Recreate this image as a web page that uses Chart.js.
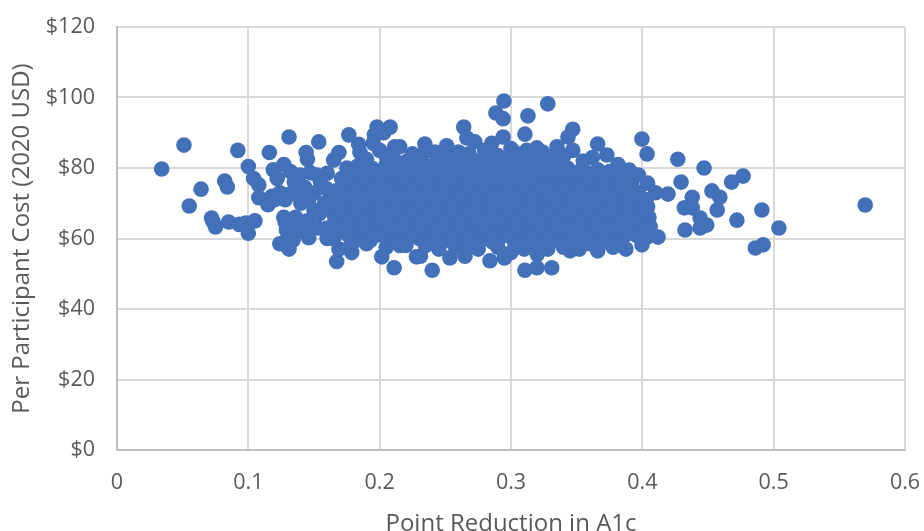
<!DOCTYPE html>
<html>
<head>
<meta charset="utf-8">
<style>
  html, body { margin: 0; padding: 0; background: #fff; overflow: hidden; }
</style>
<script src="https://cdn.jsdelivr.net/npm/chart.js@4/dist/chart.umd.min.js"></script>
</head>
<body>
<canvas id="chart" width="924" height="531"></canvas>
<script>
const xTickLabels = ['0', '0.1', '0.2', '0.3', '0.4', '0.5', '0.6'];
const yTickLabels = ['$0', '$20', '$40', '$60', '$80', '$100', '$120'];
const xTitle = 'Point Reduction in A1c';
const yTitle = 'Per Participant Cost (2020 USD)';

// [reduction, cost]
const leftTail = [
  [.034,79.7],[.051,86.5],[.055,69.2],[.064,74],[.072,65.8],[.075,63.3],[.073,64.8],[.082,76.3],
  [.084,74.6],[.085,64.7],[.092,85],[.093,64],[.1,80.4],[.1,61.5],[.105,65],[.098,64.4],[.104,77],
  [.108,75.2],[.116,84.4],[.131,88.8],[.127,81],[.119,79.5],[.108,71.6],[.115,69.6],[.124,73],
  [.12,71],[.13,72.5],[.128,64.7],[.129,62.4],[.124,58.5],[.131,57],[.146,60.2],[.134,59.5],
  [.14,62],[.136,66],[.145,65],[.15,68],[.14,70],[.15,73],[.135,76],[.139,78],[.147,78.7],[.155,76],
  [.16,74],[.158,70],[.153,63],[.16,60],[.13,60],[.127,66],[.122,77],[.132,79],[.144,84.4],[.145,82.5],
  [.118,72],[.128,71],[.137,72.5],[.146,71],[.143,74.5],[.152,78],[.16,78.5],[.154,67],[.148,63],[.135,63.5]
];
const upperEdge = [
  [.198,91.6],[.208,91.6],[.196,89.4],[.203,90],[.1765,89.4],[.1536,87.4],[.169,84.4],[.184,86.7],
  [.185,84.4],[.2115,86],[.165,82.3],[.2153,86],[.2344,86.8],[.251,86.3],[.225,84],[.242,84.5],
  [.2946,99],[.328,98.2],[.2885,95.6],[.294,94],[.3129,94.8],[.3106,89.6],[.264,91.6],[.2664,88.5],
  [.2725,87.4],[.294,88.8],[.2854,87],[.347,91],[.3434,88.8],[.335,86],[.347,85],[.312,85],[.3197,85.7],
  [.324,84.5],[.366,86.8],[.373,83.7],[.3815,81],[.362,83],[.39,79.4],[.397,78],[.3,85.5],[.28,85],
  [.26,84.5],[.355,82],[.34,83.5],[.19,82.5],[.2,85],[.175,80],[.205,83.5],[.195,87],[.268,84],[.29,83.5],
  [.305,84],[.33,83],[.232,83.5],[.252,83]
];
const rightTail = [
  [.3997,88.2],[.4036,84],[.427,82.5],[.447,80],[.4295,76],[.4767,77.7],[.468,76],[.4195,72.6],
  [.453,73.5],[.459,71.7],[.438,71.7],[.432,68.7],[.438,68.7],[.457,68.1],[.491,68.1],[.5697,69.5],
  [.472,65.2],[.444,65.8],[.449,63.8],[.444,63],[.4325,62.4],[.504,63],[.492,58.2],[.486,57.3],
  [.404,75.7],[.41,73],[.405,66],[.406,63.3],[.404,69],[.412,60.4],[.403,71]
];
const lowerEdge = [
  [.1673,53.5],[.169,57],[.1787,56],[.2016,54.8],[.211,51.7],[.228,54.8],[.24,51],[.231,55],[.2153,58],
  [.284,53.7],[.3106,51],[.3197,51.7],[.331,51.7],[.265,55],[.2535,54.5],[.366,56.5],[.3777,57.5],
  [.3875,57],[.3997,58.2],[.3,56],[.32,55.5],[.345,56.5],[.352,57],[.275,57],[.245,57],[.19,58.5],[.22,58],
  [.178,58],[.205,57.5],[.235,58],[.258,57.5],[.268,58],[.29,57.5],[.31,57],[.328,57],[.34,57.5],[.36,58.5],[.295,54.5]
];
const coreRow60 = [
  [.165,60],[.176,61],[.187,60],[.198,61],[.208,60],[.219,60.5],[.23,60],[.24,61],[.25,60],[.26,60.5],
  [.271,60],[.281,61],[.291,60],[.302,59.5],[.312,60.5],[.322,59],[.333,60],[.343,59.5],[.353,60.5],
  [.364,60],[.374,61],[.385,60],[.395,61],[.404,60.5]
];
const coreRow61 = [
  [.182,59.5],[.193,59.5],[.203,61],[.214,59],[.225,61],[.235,59.5],[.245,59],[.255,59],[.266,61],[.276,59],
  [.286,59],[.296,61],[.307,59],[.317,58.5],[.327,59.5],[.338,59],[.348,59],[.358,59.5],[.369,59],[.38,59]
];
const coreRow62 = [
  [.17,62],[.182,62],[.192,62.5],[.203,62],[.213,62.5],[.224,62],[.235,62.5],[.245,62],[.255,62.5],
  [.266,62],[.276,62.5],[.286,62],[.297,61.5],[.307,62],[.317,62],[.327,61.5],[.338,62],[.348,61.5],
  [.358,62],[.369,62],[.379,62.5],[.39,62]
];
const coreRow63 = [
  [.16,63],[.171,64],[.182,63.5],[.193,63],[.203,64],[.214,63],[.225,63.5],[.235,63],[.245,64],[.256,63],
  [.266,63.5],[.276,63],[.287,64],[.297,63],[.307,63.5],[.318,63],[.328,64],[.338,63],[.349,63.5],
  [.359,63],[.37,64],[.38,63],[.39,63.5],[.399,64]
];
const coreRow64 = [
  [.175,63],[.187,64.3],[.198,64],[.209,63.5],[.219,64.3],[.23,64],[.24,63.5],[.25,64.3],[.261,64],[.271,64.3],
  [.282,63.5],[.292,64.3],[.302,64],[.313,64.3],[.323,63.5],[.333,64.3],[.344,64],[.354,64.3],[.365,63.5],[.375,63.5],[.385,64]
];
const coreRow65 = [
  [.166,65.5],[.177,65],[.188,65.5],[.198,65],[.209,65.5],[.22,65],[.23,65.5],[.24,65],[.251,65.5],
  [.261,65],[.272,65.5],[.282,65],[.292,65.5],[.303,65],[.313,65.5],[.323,65],[.334,65.5],[.344,65],
  [.354,65.5],[.365,65],[.375,65.5],[.385,65],[.394,65.5]
];
const coreRow66 = [
  [.165,67],[.176,66.5],[.187,67],[.198,66],[.208,67],[.219,66.5],[.23,67],[.24,66],[.25,67],[.261,66.5],
  [.271,67],[.282,66],[.292,67],[.302,66.5],[.313,67],[.323,66],[.333,67],[.344,66.5],[.354,67],
  [.364,66],[.375,67],[.385,66.5],[.396,67]
];
const coreRow67 = [
  [.17,67.5],[.182,67.5],[.193,67.5],[.203,67],[.214,67.5],[.225,67.5],[.235,67.5],[.246,67.5],[.256,67.5],
  [.266,67.5],[.277,67.5],[.287,67.5],[.297,67.5],[.308,67.5],[.318,67.5],[.328,67.5],[.339,67.5],[.349,67.5],
  [.359,67.5],[.37,67.5],[.38,67.5],[.391,67.5]
];
const coreRow68 = [
  [.16,68.5],[.171,68.5],[.181,68.5],[.192,68.5],[.203,68.5],[.213,68.5],[.224,68.5],[.234,68.5],[.245,68.5],
  [.255,68.5],[.266,68.5],[.276,68.5],[.287,68.5],[.297,68.5],[.307,68.5],[.318,68.5],[.328,68.5],[.339,68.5],
  [.349,68.5],[.359,68.5],[.37,68.5],[.38,68.5],[.391,68.5],[.399,68.5]
];
const coreRow70 = [
  [.163,70],[.174,70.5],[.185,70],[.195,70.5],[.206,70],[.216,70.5],[.227,70],[.237,70.5],[.248,70],
  [.258,70.5],[.268,70],[.279,70.5],[.289,70],[.299,70.5],[.31,70],[.32,70.5],[.33,70],[.341,70.5],
  [.351,70],[.362,70.5],[.372,70],[.383,70.5],[.393,70],[.401,69.5]
];
const coreRow71 = [
  [.168,71],[.179,71],[.19,71],[.2,71],[.211,71],[.221,71],[.232,71],[.242,71],[.253,71],[.263,71],[.274,71],
  [.284,71],[.294,71],[.305,71],[.315,71],[.325,71],[.336,71],[.346,71],[.357,71],[.367,71],[.378,71],[.388,71]
];
const coreRow72 = [
  [.169,72],[.18,72],[.19,72],[.201,72],[.211,72],[.222,72],[.232,72],[.243,72],[.253,72],[.263,72],[.274,72],
  [.284,72],[.295,72],[.305,72],[.315,72],[.326,72],[.336,72],[.347,72],[.357,72],[.367,72],[.378,72],[.388,72],[.398,72]
];
const coreRow73 = [
  [.167,73.5],[.178,74],[.189,73.5],[.2,74],[.21,73.5],[.221,74],[.232,73.5],[.242,74],[.253,73.5],
  [.263,74],[.273,73.5],[.284,74],[.294,73.5],[.305,74],[.315,73.5],[.325,74],[.336,73.5],[.346,74],
  [.357,73.5],[.367,74],[.378,73.5],[.388,74],[.397,73]
];
const coreRow74 = [
  [.173,74.5],[.184,74.5],[.195,74.5],[.205,74.5],[.216,74.5],[.226,74.5],[.237,74.5],[.247,74.5],[.258,74.5],
  [.268,74.5],[.279,74.5],[.289,74.5],[.3,74.5],[.31,74.5],[.32,74.5],[.331,74.5],[.341,74.5],[.352,74.5],
  [.362,74.5],[.372,74.5],[.383,74.5]
];
const coreRow75 = [
  [.172,75.5],[.183,75.5],[.194,75.5],[.204,75.5],[.215,75.5],[.226,75.5],[.236,75.5],[.247,75.5],[.257,75.5],
  [.268,75.5],[.278,75.5],[.289,75.5],[.299,75.5],[.309,75.5],[.32,75.5],[.33,75.5],[.341,75.5],[.351,75.5],
  [.362,75.5],[.372,75.5],[.382,75.5],[.392,75]
];
const coreRow77 = [
  [.171,77],[.182,77.5],[.193,77],[.204,77.5],[.214,77],[.225,77.5],[.235,77],[.246,77.5],[.256,77],
  [.266,77.5],[.277,77],[.287,77.5],[.298,77],[.308,77.5],[.318,77],[.329,77.5],[.339,77],[.35,77.5],
  [.36,77],[.37,77.5],[.381,77],[.388,76]
];
const coreRow78 = [
  [.176,78],[.187,78],[.198,78],[.209,78],[.22,78],[.23,78],[.241,78],[.251,78],[.261,78],[.272,78],[.282,78],
  [.293,78],[.303,78],[.313,78],[.324,78],[.334,78],[.345,78],[.355,78],[.365,78],[.376,78]
];
const coreRow79 = [
  [.178,79],[.188,79],[.199,79],[.21,79],[.221,79],[.232,79],[.243,79],[.254,79],[.265,79],[.275,79],[.286,79],
  [.296,79],[.306,79],[.317,79],[.328,79],[.338,79],[.348,78.5],[.36,78.5],[.371,78],[.383,78.5]
];
const coreRow80 = [
  [.183,80.5],[.194,80],[.205,81],[.216,80.5],[.227,81],[.238,80.5],[.249,81],[.259,80.5],[.27,81],
  [.28,80.5],[.291,81],[.301,80.5],[.311,81],[.322,80.5],[.333,81],[.343,80],[.352,79],[.366,79.5],[.375,79]
];
const coreRow82 = [
  [.188,82],[.211,82.5],[.221,82],[.244,82],[.263,82.5],[.274,82],[.285,82.5],[.296,82],[.306,82.5],[.316,82],[.328,81.5]
];

const pointGroups = [leftTail, upperEdge, rightTail, lowerEdge, coreRow60, coreRow61, coreRow62, coreRow63, coreRow64,
  coreRow65, coreRow66, coreRow67, coreRow68, coreRow70, coreRow71, coreRow72, coreRow73, coreRow74, coreRow75,
  coreRow77, coreRow78, coreRow79, coreRow80, coreRow82];
const points = pointGroups.flat().map(p => ({ x: p[0], y: p[1] }));

const tickFont = { family: '"Open Sans", "Noto Sans", sans-serif', size: 21.5 };
const titleFont = { family: '"Open Sans", "Noto Sans", sans-serif', size: 24 };

new Chart(document.getElementById('chart'), {
  type: 'scatter',
  data: {
    datasets: [{
      data: points,
      backgroundColor: '#4270b9',
      borderColor: '#4270b9',
      borderWidth: 0,
      pointRadius: 7.8,
      pointHoverRadius: 7.8
    }]
  },
  options: {
    responsive: false,
    animation: false,
    plugins: { legend: { display: false }, tooltip: { enabled: false } },
    layout: { padding: { top: 27, right: 19, left: 8, bottom: 0 } },
    scales: {
      x: {
        type: 'linear',
        min: 0,
        max: 0.6,
        afterFit: axis => { axis.height = 81; axis.paddingLeft = 0; axis.paddingRight = 0; },
        grid: { color: '#d9d9d9', lineWidth: 2, drawTicks: false },
        border: { color: '#bfbfbf', width: 2 },
        ticks: {
          stepSize: 0.1,
          padding: 20,
          color: '#595959',
          font: tickFont,
          maxRotation: 0,
          callback: (v, i) => xTickLabels[i]
        },
        title: {
          display: true,
          text: xTitle,
          color: '#595959',
          font: { ...titleFont, lineHeight: 0.6 },
          padding: { top: 8, bottom: 0 }
        }
      },
      y: {
        min: 0,
        max: 120,
        afterFit: axis => { axis.width = 109; axis.paddingTop = 0; axis.paddingBottom = 0; },
        grid: { color: '#d9d9d9', lineWidth: 2, drawTicks: false },
        border: { color: '#bfbfbf', width: 2 },
        ticks: {
          stepSize: 20,
          padding: 22,
          color: '#595959',
          font: tickFont,
          callback: (v, i) => yTickLabels[i]
        },
        title: { display: true, text: yTitle, color: '#595959', font: titleFont, padding: { top: 0, bottom: 6 } }
      }
    }
  }
});
</script>
</body>
</html>
